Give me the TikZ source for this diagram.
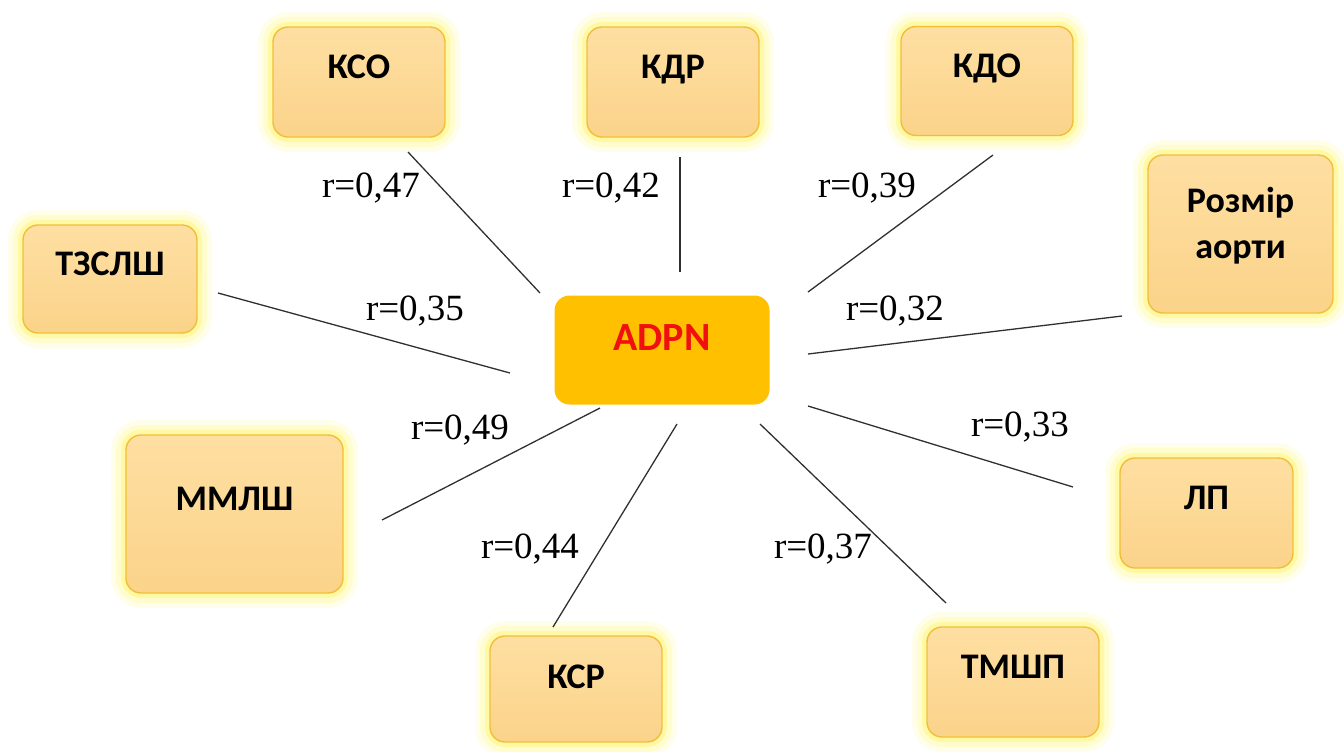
\documentclass[tikz,border=0pt]{standalone}
\usepackage{fontspec}
\setmainfont{Liberation Serif}
\newfontfamily\boxfont{Carlito}
\definecolor{boxtop}{HTML}{FEDFA2}
\definecolor{boxbot}{HTML}{FBD38A}
\definecolor{boxline}{HTML}{F2BE3A}
\definecolor{glowc}{HTML}{FFF45A}
\definecolor{centerfill}{HTML}{FFC000}
\definecolor{centertext}{HTML}{F01010}
\definecolor{linec}{HTML}{303030}
\tikzset{
  glowbox/.style={rounded corners=7.5pt, draw=boxline, line width=0.7pt,
    top color=boxtop, bottom color=boxbot, inner sep=0pt,
    font=\boxfont\bfseries\fontsize{18}{21}\selectfont, align=center,
    text depth=15pt,
    preaction={draw=glowc, line width=15pt, opacity=0.12},
    preaction={draw=glowc, line width=10pt, opacity=0.2},
    preaction={draw=glowc, line width=5pt, opacity=0.35}},
  centerbox/.style={rounded corners=7.5pt, fill=centerfill, draw=none,
    inner sep=0pt, text=centertext, text depth=12pt,
    font=\boxfont\bfseries\fontsize{20}{24}\selectfont},
  rlabel/.style={font=\fontsize{18.5}{22}\selectfont, inner sep=0pt,
    text height=0.68em, text depth=0pt},
  link/.style={draw=linec, line width=0.65pt}
}
\begin{document}
\begin{tikzpicture}[x=0.5pt,y=-0.5pt]
\useasboundingbox (0,0) rectangle (1344,751);
% boxes (centre, size in px/2 pt)
\node[glowbox, minimum width=86pt, minimum height=55pt] (kso) at (359,82) {КСО};
\node[glowbox, minimum width=86pt, minimum height=55pt] (kdr) at (673,82) {КДР};
\node[glowbox, minimum width=86pt, minimum height=54.5pt] (kdo) at (987,81) {КДО};
\node[glowbox, minimum width=92.5pt, minimum height=79pt, text depth=11pt] (aorta) at (1240.5,234) {Розмір\\[2pt]аорти};
\node[glowbox, minimum width=87pt, minimum height=54pt] (tzslsh) at (110,279) {ТЗСЛШ};
\node[glowbox, minimum width=108.5pt, minimum height=79pt] (mmlsh) at (234.5,514) {ММЛШ};
\node[glowbox, minimum width=86pt, minimum height=53pt, text depth=12pt] (ksr) at (576,689) {КСР};
\node[glowbox, minimum width=86pt, minimum height=55pt] (tmshp) at (1013,682) {ТМШП};
\node[glowbox, minimum width=86.5pt, minimum height=55pt] (lp) at (1206.5,513) {ЛП};
\node[centerbox, minimum width=107.5pt, minimum height=54.5pt] (adpn) at (662,350) {ADPN};
% connector end points
\coordinate (ksoA) at (408,152);   \coordinate (ksoB) at (540,293);
\coordinate (kdrA) at (680,157);   \coordinate (kdrB) at (680,272);
\coordinate (kdoA) at (993,155);   \coordinate (kdoB) at (808,292);
\coordinate (aoA) at (1122,316);   \coordinate (aoB) at (808,354);
\coordinate (tzA) at (218,293);    \coordinate (tzB) at (510,373);
\coordinate (mmA) at (382,520);    \coordinate (mmB) at (600,408);
\coordinate (ksrA) at (553,627);   \coordinate (ksrB) at (677,424);
\coordinate (tmA) at (946,603);    \coordinate (tmB) at (760,424);
\coordinate (lpA) at (1073,487);   \coordinate (lpB) at (808,406);
\draw[link] (ksoA) -- (ksoB);
\draw[link] (kdrA) -- (kdrB);
\draw[link] (kdoA) -- (kdoB);
\draw[link] (aoA) -- (aoB);
\draw[link] (tzA) -- (tzB);
\draw[link] (mmA) -- (mmB);
\draw[link] (ksrA) -- (ksrB);
\draw[link] (tmA) -- (tmB);
\draw[link] (lpA) -- (lpB);
% labels
\node[rlabel] (l1) at (371,191) {r=0,47};
\node[rlabel] (l2) at (611,191) {r=0,42};
\node[rlabel] (l3) at (867,191) {r=0,39};
\node[rlabel] (l4) at (415,314) {r=0,35};
\node[rlabel] (l5) at (895,314) {r=0,32};
\node[rlabel] (l6) at (460,433) {r=0,49};
\node[rlabel] (l7) at (1020,430) {r=0,33};
\node[rlabel] (l8) at (530,552) {r=0,44};
\node[rlabel] (l9) at (823,552) {r=0,37};
\end{tikzpicture}
\end{document}
